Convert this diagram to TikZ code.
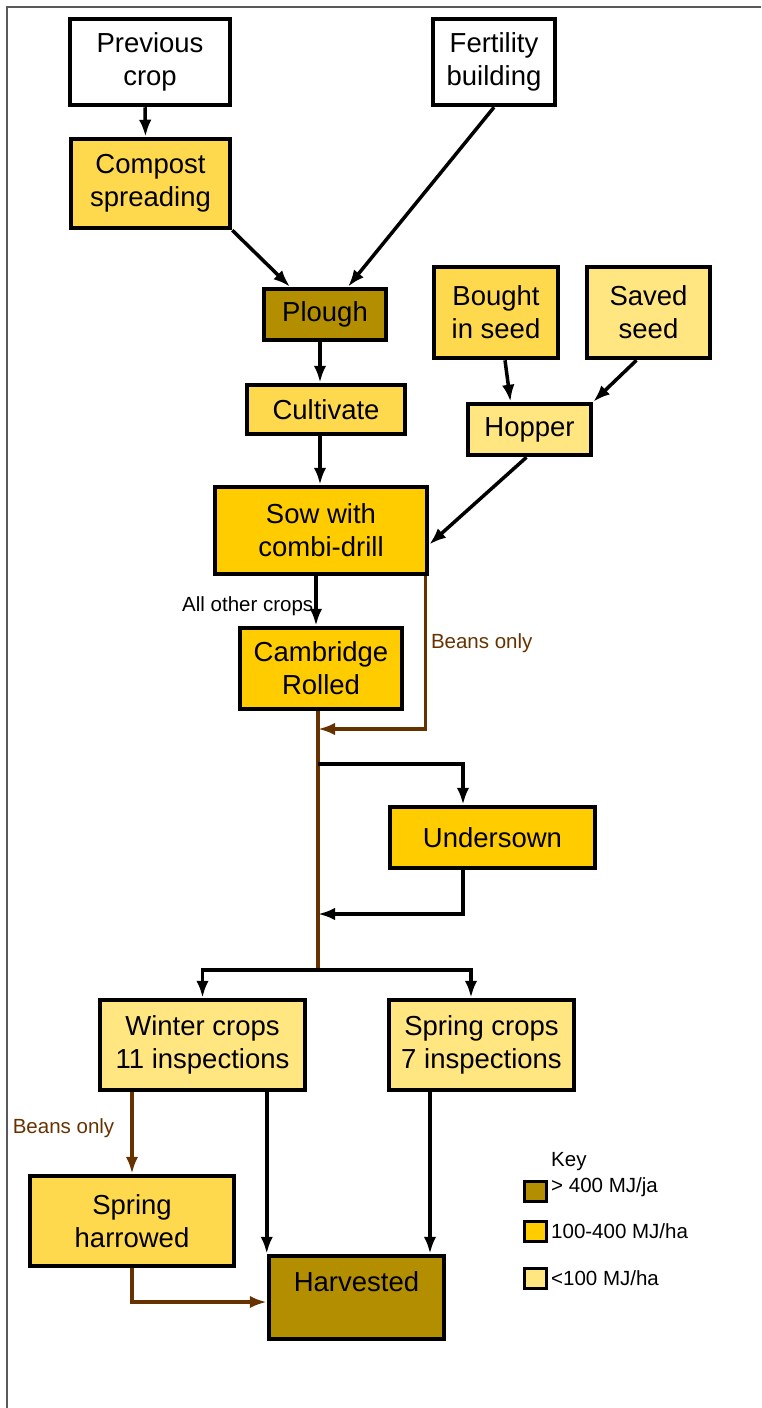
\documentclass[tikz,border=0pt]{standalone}
\usepackage{fontspec}
\setmainfont{Liberation Sans}
\usepackage{xcolor}
\usetikzlibrary{arrows.meta,positioning}

\definecolor{darkgold}{HTML}{B38F00}
\definecolor{gold}{HTML}{FFCC00}
\definecolor{midgold}{HTML}{FFD94D}
\definecolor{lightgold}{HTML}{FFE680}
\definecolor{beanbrown}{HTML}{663300}

\tikzset{
  stagebox/.style={draw, line width=4.5pt, align=center, inner sep=0pt,
    font=\fontsize{27.5}{33}\selectfont},
  arr/.style={line width=3.5pt, -{Latex[length=17pt,width=12.5pt]}},
  beanarr/.style={arr, beanbrown},
  smalllabel/.style={inner sep=0pt, font=\fontsize{20.5}{24}\selectfont},
  keybox/.style={draw, line width=3pt, minimum width=22pt, minimum height=20pt, inner sep=0pt},
}

\begin{document}
\begin{tikzpicture}[x=1pt, y=-1pt]
  \useasboundingbox (0,0) rectangle (761,1408);
  \draw[black!65, line width=1.5pt] (7,1408) -- (7,7) -- (761,7);

  % boxes
  \node[stagebox, fill=white, minimum width=160, minimum height=86] (prev) at (150,62) {Previous\\crop};
  \node[stagebox, fill=white, minimum width=122, minimum height=86] (fert) at (494,62) {Fertility\\building};
  \node[stagebox, fill=midgold, minimum width=159, minimum height=89] (compost) at (150.5,183.5) {Compost\\spreading};
  \node[stagebox, fill=darkgold, minimum width=122, minimum height=51] (plough) at (325,314.5) {Plough};
  \node[stagebox, fill=midgold, minimum width=158, minimum height=49] (cult) at (326,409.5) {Cultivate};
  \node[stagebox, fill=midgold, minimum width=124, minimum height=91] (bought) at (496,312.5) {Bought\\in seed};
  \node[stagebox, fill=lightgold, minimum width=123, minimum height=91] (saved) at (648.5,312.5) {Saved\\seed};
  \node[stagebox, fill=lightgold, minimum width=123, minimum height=51] (hopper) at (529.5,429.5) {Hopper};
  \node[stagebox, fill=gold, minimum width=212, minimum height=87] (sow) at (321,530.5) {Sow with\\combi-drill};
  \node[stagebox, fill=gold, minimum width=162, minimum height=81] (cam) at (321,668.5) {Cambridge\\Rolled};
  \node[stagebox, fill=gold, minimum width=205, minimum height=61] (under) at (492.5,837.5) {Undersown};
  \node[stagebox, fill=lightgold, minimum width=205, minimum height=90] (winter) at (202.5,1045) {Winter crops\\11 inspections};
  \node[stagebox, fill=lightgold, minimum width=185, minimum height=90] (springc) at (481.5,1045) {Spring crops\\7 inspections};
  \node[stagebox, fill=midgold, minimum width=204, minimum height=90] (sharrow) at (132,1221) {Spring\\harrowed};
  \node[stagebox, fill=darkgold, minimum width=175, text height=35pt, text depth=48pt] (harv) at (356.5,1297.5) {Harvested};

  % junctions on the main line
  \coordinate (join) at (318,729);
  \coordinate (uin) at (318,764);
  \coordinate (uout) at (318,914);
  \coordinate (split) at (318,970);

  % connectors
  \draw[arr] ([xshift=-5]prev.south) -- ([xshift=-5]compost.north);
  \draw[arr] (compost.south east) -- ([xshift=-35]plough.north);
  \draw[arr] (fert.south) -- ([xshift=23]plough.north);
  \draw[arr] ([xshift=-5]plough.south) -- ([xshift=-6]cult.north);
  \draw[arr] ([xshift=9]bought.south) -- ([xshift=-19]hopper.north);
  \draw[arr] ([xshift=-12]saved.south) -- (hopper.north east);
  \draw[arr] ([xshift=-3]hopper.south) -- ([yshift=-14]sow.east);
  \draw[arr] ([xshift=-6]cult.south) -- ([xshift=-1]sow.north);
  \draw[arr] ([xshift=-5]sow.south) -- ([xshift=-5]cam.north)
    node[smalllabel, pos=0.6, anchor=east, xshift=-1] {All other crops};
  \draw[beanarr] ([xshift=-4]sow.south east) |- (join)
    node[smalllabel, beanbrown, pos=0.22, anchor=west, xshift=4] {Beans only};
  \draw[beanbrown, line width=3.5pt] ([xshift=-3]cam.south) -- (split);
  \draw[arr] (uin) -| ([xshift=-29.5]under.north);
  \draw[arr] ([xshift=-29.5]under.south) |- (uout);
  \draw[arr] (split) -| (winter.north);
  \draw[arr] (split) -| ([xshift=-10.5]springc.north);
  \draw[beanarr] (winter.south -| sharrow.north) -- (sharrow.north)
    node[smalllabel, beanbrown, pos=0.44, left=16] {Beans only};
  \draw[arr] (winter.south -| harv.north west) -- (harv.north west);
  \path ([xshift=-51.5]springc.south) coordinate (sc1);
  \draw[arr] (sc1) -- (sc1 |- harv.north);
  \draw[beanarr] (sharrow.south) |- ([yshift=-4.5]harv.west);

  % key
  \node[smalllabel, anchor=west] (keytitle) at (551,1162) {Key};
  \node[keybox, fill=darkgold] (k1) at (535.5,1191.5) {};
  \node[keybox, fill=gold] (k2) at (535.5,1231.5) {};
  \node[keybox, fill=lightgold] (k3) at (535.5,1278.5) {};
  \node[smalllabel, right=3pt of k1, yshift=4] {> 400 MJ/ja};
  \node[smalllabel, right=3pt of k2] {100-400 MJ/ha};
  \node[smalllabel, right=3pt of k3] {<100 MJ/ha};
\end{tikzpicture}
\end{document}
